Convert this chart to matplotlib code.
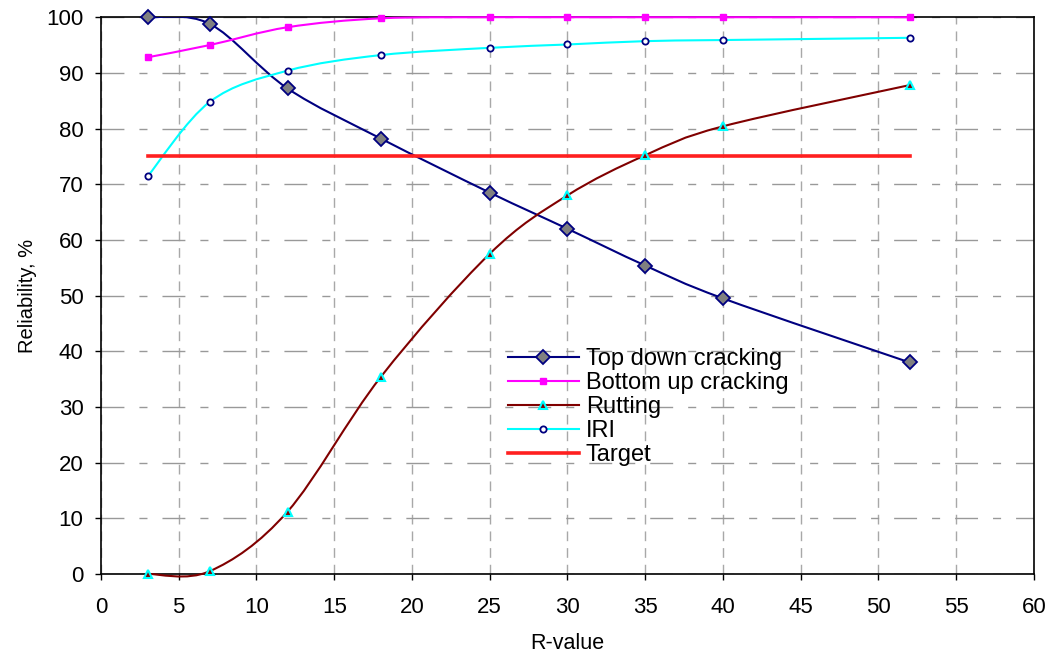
import numpy as np
import matplotlib
matplotlib.use('Agg')
import matplotlib.pyplot as plt
from matplotlib.path import Path
from matplotlib.patches import PathPatch
from matplotlib.lines import Line2D

# reliability vs R-value
r_value = [3, 7, 12, 18, 25, 30, 35, 40, 52]
top_down = [100, 98.8, 87.2, 78.2, 68.5, 62.0, 55.4, 49.5, 38.0]
bottom_up = [92.8, 95.0, 98.2, 99.8, 100, 100, 100, 100, 100]
rutting = [0, 0.5, 11.2, 35.4, 57.5, 68.0, 75.2, 80.4, 87.8]
iri = [71.4, 84.8, 90.4, 93.2, 94.5, 95.1, 95.7, 95.9, 96.3]
target_x = [3, 52]
target = [75, 75]

plt.rcParams['font.family'] = ['Liberation Sans', 'DejaVu Sans']


def smooth_path(x, y):
    # Excel style smoothed line: cubic bezier segments through the points
    p = np.column_stack([x, y]).astype(float)
    n = len(p)
    verts = [p[0]]
    codes = [Path.MOVETO]
    for i in range(n - 1):
        p0 = p[i - 1] if i > 0 else p[i]
        p1, p2 = p[i], p[i + 1]
        p3 = p[i + 2] if i + 2 < n else p[i + 1]
        verts += [p1 + (p2 - p0) / 6, p2 - (p3 - p1) / 6, p2]
        codes += [Path.CURVE4] * 3
    return Path(verts, codes)


fig = plt.figure(figsize=(10.55, 6.62), dpi=100)
ax = fig.add_axes([0.0957, 0.133, 0.8843, 0.841])

series = [
    ('Top down cracking', top_down, '#000080', dict(marker='D', ms=7, mfc='#808080', mec='#000080', mew=1.3)),
    ('Bottom up cracking', bottom_up, '#FF00FF', dict(marker='s', ms=5, mfc='#FF00FF', mec='#FF00FF', mew=1)),
    ('Rutting', rutting, '#800000', dict(marker='^', ms=5.5, mfc='#800000', mec='#00FFFF', mew=1.5)),
    ('IRI', iri, '#00FFFF', dict(marker='o', ms=4.5, mfc='white', mec='#000080', mew=1.3)),
]

handles = []
for name, vals, col, mk in series:
    ax.add_patch(PathPatch(smooth_path(r_value, vals), fill=False, ec=col, lw=1.5,
                           zorder=3, clip_on=(name == 'Top down cracking')))
    ax.plot(r_value, vals, ls='none', zorder=4, clip_on=False, **mk)
    handles.append(Line2D([], [], color=col, lw=1.5, **mk))

ax.plot(target_x, target, color='#FF2020', lw=2.6, zorder=3)
handles.append(Line2D([], [], color='#FF2020', lw=2.6))

ax.set_xlim(0, 60)
ax.set_ylim(0, 100)
ax.set_xticks(range(0, 61, 5))
ax.set_yticks(range(0, 101, 10))
ax.grid(True, axis='y', color='#999999', lw=1, dashes=(16.5, 10.8, 5.8, 10.8))
ax.grid(True, axis='x', color='#A8A8A8', lw=1, dashes=(7, 5))
ax.set_axisbelow(True)
for s in ax.spines.values():
    s.set_linewidth(1.2)
ax.tick_params(direction='out', length=4.5, width=1, labelsize=16)
ax.tick_params(axis='x', pad=12)
ax.tick_params(axis='y', pad=8)
ax.set_xlabel('R-value', fontsize=15.5, labelpad=11)
ax.set_ylabel('Reliability, %', fontsize=14.5, labelpad=7)

ax.legend(handles, [s[0] for s in series] + ['Target'], loc='upper left',
          bbox_to_anchor=(0.436, 0.405), frameon=False, fontsize=17,
          handlelength=3.0, labelspacing=0.08, handletextpad=0.3,
          borderaxespad=0, borderpad=0)

fig.savefig('out.png', dpi=100)
